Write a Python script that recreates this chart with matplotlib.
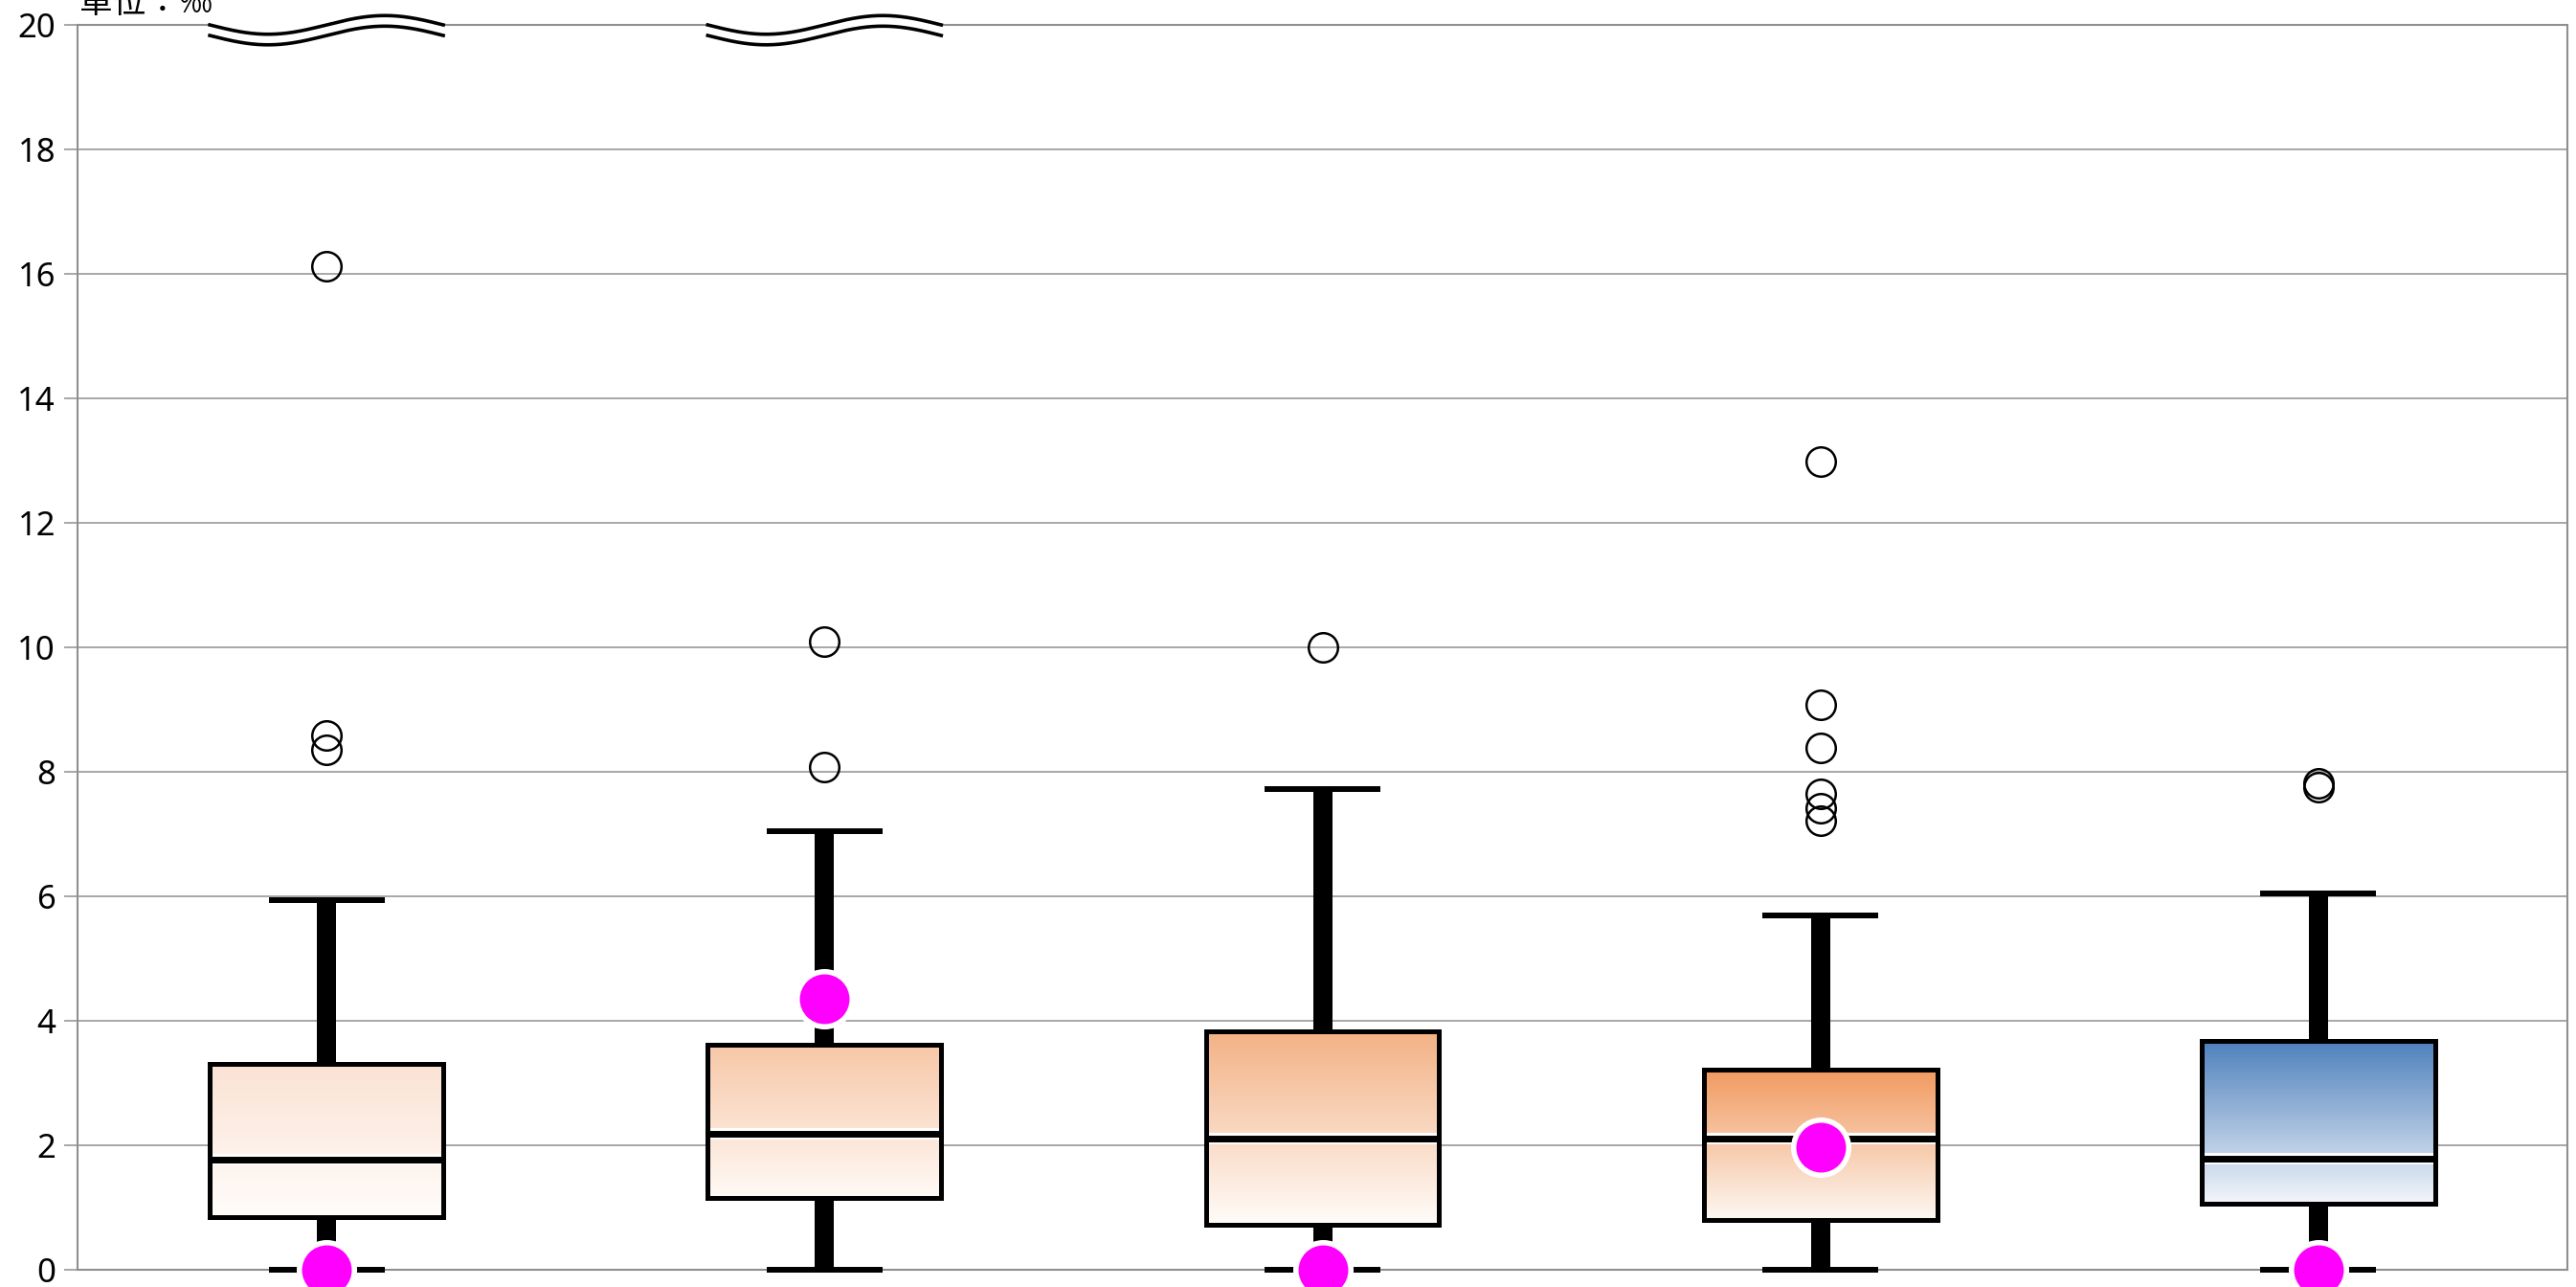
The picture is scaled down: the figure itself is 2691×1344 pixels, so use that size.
import numpy as np
import matplotlib
matplotlib.use("Agg")
import matplotlib.pyplot as plt
import matplotlib.patheffects as pe
from matplotlib.colors import to_rgb

plt.rcParams['font.family'] = ['Noto Sans', 'DejaVu Sans']

# ---- data ----
groups = ['1', '2', '3', '4', '5']
q1 = [0.85, 1.16, 0.72, 0.80, 1.06]
median = [1.77, 2.19, 2.11, 2.11, 1.79]
q3 = [3.31, 3.62, 3.83, 3.21, 3.67]
whislo = [0.0, 0.0, 0.0, 0.0, 0.0]
whishi = [5.94, 7.05, 7.72, 5.70, 6.04]
means = [0.0, 4.35, 0.0, 1.97, 0.0]
fliers = [
    [16.13, 8.58, 8.35],
    [10.10, 8.07],
    [10.00],
    [12.98, 9.07, 8.38, 7.64, 7.42, 7.21],
    [7.81, 7.76],
]
has_break = [True, True, False, False, False]
yticks = [0, 2, 4, 6, 8, 10, 12, 14, 16, 18, 20]
unit_label = '單位：‰'

top_colors = ['#fbe2d4', '#f7c7a7', '#f3b184', '#f19a60', '#4f81bd']
bottom_colors = ['#fffdfb', '#fffaf6', '#fffcf9', '#fdf8f3', '#f3f6fb']

# ---- figure ----
W, H = 2691, 1344
fig = plt.figure(figsize=(W / 100, H / 100), dpi=100)
ax = fig.add_axes([81 / W, 1 - 1326 / H, (2682 - 81) / W, (1326 - 26) / H])

positions = np.arange(len(groups)) + 0.5
box_w = 0.469
cap_w = 0.2326

stats = []
for i, g in enumerate(groups):
    stats.append(dict(label=g, q1=q1[i], med=median[i], q3=q3[i],
                      whislo=whislo[i], whishi=whishi[i], mean=means[i],
                      fliers=np.array(fliers[i])))

art = ax.bxp(stats, positions=positions, widths=box_w, capwidths=cap_w,
             patch_artist=True, showmeans=True, meanline=False,
             boxprops=dict(facecolor='none', edgecolor='black', linewidth=3.6,
                           joinstyle='miter'),
             whiskerprops=dict(color='black', linewidth=14.4, solid_capstyle='butt'),
             capprops=dict(color='black', linewidth=4.3, solid_capstyle='butt'),
             medianprops=dict(color='black', linewidth=5.0, solid_capstyle='butt',
                              path_effects=[pe.Stroke(linewidth=8.6, foreground='white'),
                                            pe.Normal()]),
             meanprops=dict(marker='o', markerfacecolor='#ff00ff',
                            markeredgecolor='white', markersize=41.4,
                            markeredgewidth=4),
             flierprops=dict(marker='o', markerfacecolor='none',
                             markeredgecolor='black', markersize=22,
                             markeredgewidth=1.8))

for w in art['whiskers']:
    w.set_zorder(3)
    w.set_clip_on(False)
for c in art['caps']:
    c.set_zorder(3)
    c.set_clip_on(False)
for m in art['medians']:
    m.set_zorder(4.5)
for b in art['boxes']:
    b.set_zorder(5)
for m in art['means']:
    m.set_zorder(7)
    m.set_clip_on(False)
for f in art['fliers']:
    f.set_zorder(6)
    f.set_clip_on(False)

# gradient fills inside boxes
for i, b in enumerate(art['boxes']):
    c0 = np.array(to_rgb(bottom_colors[i]))
    c1 = np.array(to_rgb(top_colors[i]))
    t = np.linspace(0, 1, 256)[:, None, None]
    grad = c0[None, None, :] * (1 - t) + c1[None, None, :] * t
    im = ax.imshow(grad, extent=[positions[i] - box_w / 2, positions[i] + box_w / 2,
                                 q1[i], q3[i]],
                   origin='lower', aspect='auto', interpolation='bilinear', zorder=4)
    im.set_clip_path(b)

# axis break marks at the top
t = np.linspace(0, 1, 200)
for i, brk in enumerate(has_break):
    if not brk:
        continue
    xs = positions[i] - box_w / 2 + box_w * t
    y_up = 20 - 0.15 * np.sin(2 * np.pi * t)
    y_lo = y_up - 0.17
    ax.fill_between(xs, y_lo, np.maximum(y_up, 20.05), color='white',
                    zorder=9, clip_on=False, linewidth=0)
    ax.plot(xs, y_up, color='black', lw=2.6, zorder=10, clip_on=False)
    ax.plot(xs, y_lo, color='black', lw=2.6, zorder=10, clip_on=False)

ax.set_xlim(0, len(groups))
ax.set_ylim(0, 20)
ax.set_yticks(yticks)
ax.set_xticks([])
ax.set_axisbelow(True)
ax.yaxis.grid(True, color='#8f8f8f', linewidth=1.1)
ax.tick_params(axis='y', length=10, width=1.1, color='#8f8f8f', pad=6.5,
               labelsize=25, labelcolor='black')
for s in ax.spines.values():
    s.set_color('#8f8f8f')
    s.set_linewidth(1.5)

fig.text(83 / W, 1 - 13 / H, unit_label, fontsize=25,
         family=['Noto Sans CJK TC', 'DejaVu Sans'], va='baseline', ha='left')

fig.savefig('out.png', dpi=100)
